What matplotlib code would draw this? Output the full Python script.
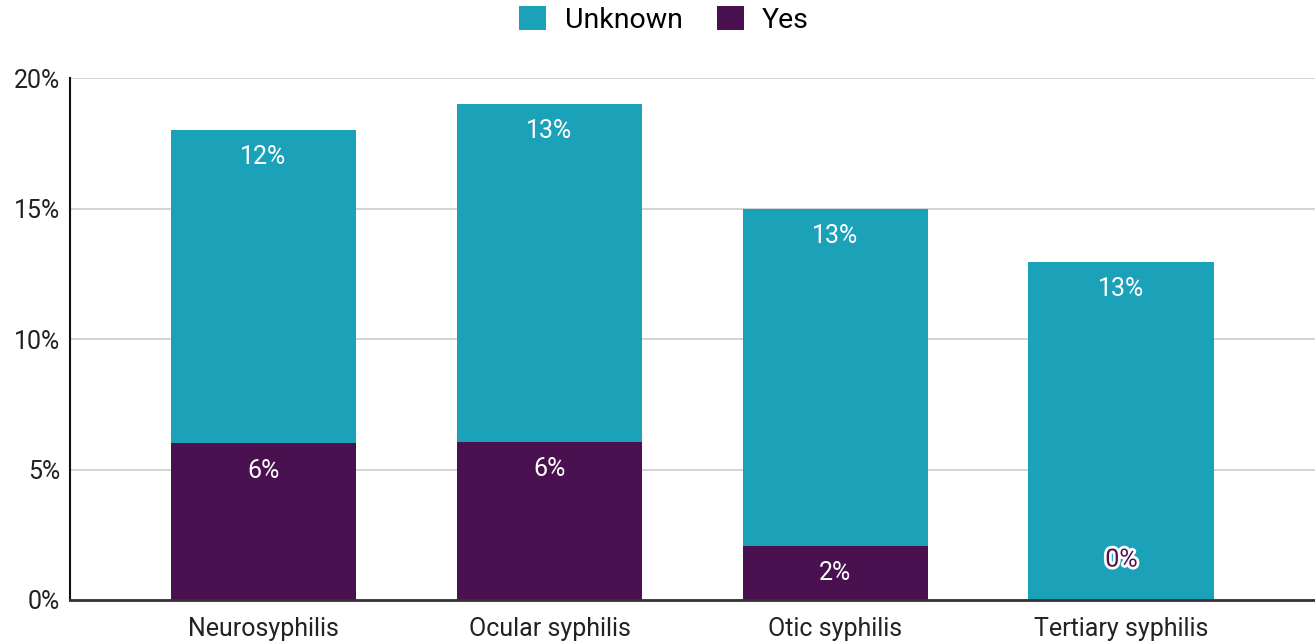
import matplotlib.pyplot as plt
import matplotlib.patheffects as pe
import numpy as np

plt.rcParams['font.family'] = ['Roboto', 'DejaVu Sans']

categories = ['Neurosyphilis', 'Ocular syphilis', 'Otic syphilis', 'Tertiary syphilis']
yes = [6.0, 6.05, 2.07, 0.0]
unknown = [12.0, 12.95, 12.93, 12.95]

teal = '#1ba1b8'
purple = '#4a1150'

fig = plt.figure(figsize=(13.15, 6.41), dpi=100)
ax = fig.add_axes([0.0532, 0.064, 0.9468, 0.814])

x = np.arange(len(categories))
w = 0.65
b1 = ax.bar(x, yes, w, color=purple, label='Yes', zorder=3)
b2 = ax.bar(x, unknown, w, bottom=yes, color=teal, label='Unknown', zorder=3)


def label(xi, bottom, height, txt, **kw):
    # label sits ~25px under segment top, centred if the segment is short
    if height >= 2.2:
        ax.annotate(txt, (xi, bottom + height), xytext=(0, -19.5), textcoords='offset points',
                    ha='center', va='center', fontsize=18, zorder=4, **kw)
    else:
        ax.text(xi, bottom + max(height, 2.1) / 2 + (0.5 if height == 0 else 0), txt,
                ha='center', va='center', fontsize=18, zorder=4, **kw)


for i in range(len(categories)):
    if yes[i] > 0:
        label(x[i], 0, yes[i], f'{round(yes[i])}%', color='white')
    else:
        label(x[i], 0, yes[i], f'{round(yes[i])}%', color=purple,
              path_effects=[pe.withStroke(linewidth=4, foreground='white')])
    label(x[i], yes[i], unknown[i], f'{round(unknown[i])}%', color='white')

ax.set_xlim(-0.677, 3.677)
ax.set_ylim(0, 20)
ax.set_yticks([0, 5, 10, 15, 20])
ax.set_yticklabels(['0%', '5%', '10%', '15%', '20%'])
ax.set_xticks(x)
ax.set_xticklabels(categories)
ax.tick_params(axis='both', length=0, labelsize=18, colors='#222222')
ax.tick_params(axis='y', pad=7)
ax.tick_params(axis='x', pad=12)
ax.grid(axis='y', color='#cccccc', linewidth=1.2, zorder=0)
for s in ['top', 'right']:
    ax.spines[s].set_visible(False)
ax.spines['left'].set_color('#111111')
ax.spines['left'].set_linewidth(1.5)
ax.spines['bottom'].set_color('#333333')
ax.spines['bottom'].set_linewidth(2)
ax.spines['bottom'].set_zorder(5)

fig.legend(handles=[b2, b1], labels=['Unknown', 'Yes'], loc='center',
           bbox_to_anchor=(0.505, 0.969), ncol=2, frameon=False, fontsize=20.5,
           handlelength=0.95, handleheight=0.95, handletextpad=0.65, columnspacing=1.2,
           borderaxespad=0, borderpad=0)

fig.savefig('out.png', dpi=100)
